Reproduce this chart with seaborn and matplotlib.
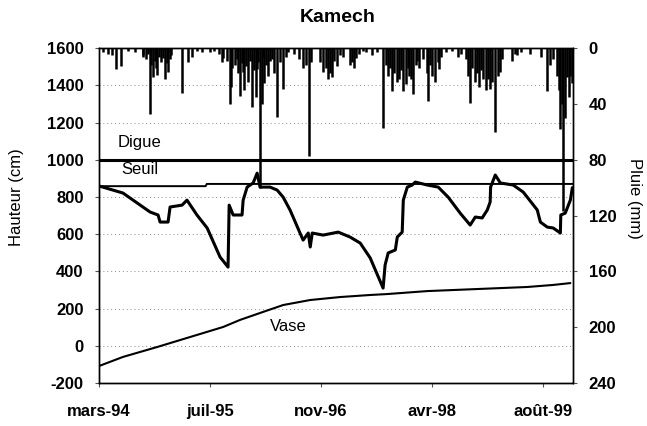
import pandas as pd
import seaborn as sns
import matplotlib.pyplot as plt

# jours comptés depuis le 1er mars 1994
debut = pd.Timestamp('1994-03-01')

tick_labels = ['mars-94', 'juil-95', 'nov-96', 'avr-98', 'août-99']
tick_days = [0, 500, 1000, 1500, 2000]

# hauteur d'eau dans la retenue (cm)
niveau_jour = [0, 108, 230, 266, 275, 311, 320, 374, 396, 441, 487, 545, 581, 586, 604, 644,
               649, 667, 694, 712, 725, 770, 802, 829, 860, 905, 919, 942, 951, 960, 1009,
               1077, 1131, 1176, 1221, 1279, 1288, 1302, 1334, 1343, 1365, 1370, 1388, 1410,
               1424, 1478, 1527, 1572, 1626, 1671, 1694, 1725, 1748, 1761, 1763, 1784, 1807,
               1865, 1910, 1973, 1987, 2018, 2045, 2077, 2079, 2099, 2122, 2131]
niveau_cm = [859, 821, 719, 703, 665, 665, 746, 756, 783, 703, 633, 477, 423, 756, 703, 703,
             783, 853, 875, 928, 853, 853, 837, 799, 730, 606, 568, 606, 531, 606, 595,
             611, 584, 552, 472, 310, 434, 499, 515, 585, 611, 783, 853, 864,
             880, 864, 853, 799, 713, 649, 692, 687, 730, 773, 853, 918, 875,
             864, 826, 730, 665, 638, 633, 606, 703, 713, 783, 850]

# envasement (cm)
vase_jour = [0, 108, 261, 410, 559, 635, 739, 829, 951, 1086, 1221, 1297, 1478, 1703, 1928, 2045, 2122]
vase_cm = [-109, -60, -7, 47, 101, 139, 182, 219, 246, 262, 273, 278, 294, 305, 316, 327, 337]

# cote de la digue et du seuil (cm)
digue_cm = 1000
seuil_jour = [0, 480, 485, 2135]
seuil_cm = [858, 858, 870, 870]

# pluie journalière (mm)
pluie_jour = [41, 77, 99, 198, 230, 243, 261, 297, 311, 374, 401, 419, 464, 554, 590, 613,
              635, 649, 671, 689, 712, 725, 734, 770, 802, 829, 919, 946, 1009, 1050, 1072,
              1131, 1149, 1189, 1279, 1320, 1343, 1370, 1397, 1415, 1433, 1482, 1514, 1532,
              1617, 1671, 1694, 1730, 1761, 1784, 1807, 1861, 1874, 2018, 2045, 2077, 2090,
              2108, 2122,
              200, 210, 220, 236, 250, 255, 270, 280, 290, 305, 318, 325,
              540, 560, 575, 595, 600, 620, 628, 642, 655, 660, 680, 700, 705, 718, 740, 745,
              750, 760, 780, 790, 815, 840, 900, 930, 955,
              995, 1020, 1030, 1040, 1060, 1085, 1100, 1140, 1155,
              1290, 1300, 1310, 1330, 1350, 1360, 1380, 1390, 1405, 1425,
              1440, 1460, 1475, 1490, 1500, 1525, 1540,
              1650, 1660, 1680, 1700, 1710, 1720, 1740, 1750, 1770, 1795, 1815,
              2030, 2060, 2070, 2085, 2100, 2115, 2128,
              20, 60, 130, 160, 440, 500, 520, 850, 880, 1170, 1200, 1230, 1250,
              1560, 1590, 1630, 1880, 1900, 1940, 1990]
pluie_mm = [4, 15, 13, 6, 47, 21, 19, 22, 17, 32, 10, 6, 3, 10, 40, 12,
            34, 17, 24, 42, 15, 100, 40, 9, 49, 29, 14, 77, 17, 21, 13,
            12, 14, 2, 57, 31, 24, 31, 20, 33, 9, 38, 24, 15,
            6, 39, 24, 22, 29, 60, 17, 9, 4, 31, 8, 58, 117,
            21, 20,
            5, 8, 4, 12, 9, 14, 6, 10, 7, 11, 8, 5,
            4, 7, 9, 28, 14, 8, 18, 11, 30, 13, 9, 16, 35, 10, 6, 25,
            12, 20, 8, 18, 10, 6, 8, 12, 10,
            10, 14, 22, 18, 9, 5, 6, 10, 7,
            12, 20, 14, 18, 22, 16, 26, 14, 22, 12,
            14, 8, 18, 12, 20, 10, 6,
            8, 20, 14, 18, 28, 16, 30, 22, 24, 20, 8,
            12, 20, 30, 40, 50, 35, 25,
            3, 5, 2, 3, 2, 3, 2, 3, 4, 4, 3, 5, 3,
            3, 2, 4, 5, 3, 4, 6]

niveau = pd.DataFrame({'date': debut + pd.to_timedelta(niveau_jour, unit='D'), 'cm': niveau_cm})
vase = pd.DataFrame({'date': debut + pd.to_timedelta(vase_jour, unit='D'), 'cm': vase_cm})
seuil = pd.DataFrame({'date': debut + pd.to_timedelta(seuil_jour, unit='D'), 'cm': seuil_cm})
pluie = pd.DataFrame({'date': debut + pd.to_timedelta(pluie_jour, unit='D'), 'mm': pluie_mm})

sns.set_style('ticks')
plt.rcParams['font.family'] = ['Liberation Sans', 'DejaVu Sans']
plt.rcParams['axes.unicode_minus'] = False
plt.rcParams['text.color'] = 'black'
plt.rcParams['axes.labelcolor'] = 'black'

fig = plt.figure(figsize=(6.47, 4.26), dpi=100)
ax = fig.add_axes([0.153, 0.101, 0.733, 0.786])
ax2 = ax.twinx()

fin = debut + pd.Timedelta(days=2135)

ax.yaxis.grid(True, color='#8a8a8a', linestyle=(0, (1, 3)), linewidth=0.7)
ax.axhline(digue_cm, color='black', lw=2.2)
sns.lineplot(data=seuil, x='date', y='cm', ax=ax, color='black', lw=1.4, estimator=None, sort=False)
sns.lineplot(data=vase, x='date', y='cm', ax=ax, color='black', lw=1.5, estimator=None, sort=False)
sns.lineplot(data=niveau, x='date', y='cm', ax=ax, color='black', lw=2.2, estimator=None, sort=False)

ax2.vlines(pluie['date'], 0, pluie['mm'], color='black', lw=1.8)

ax.set_xlim(debut, fin)
ax.set_ylim(-200, 1600)
ax.set_yticks(range(-200, 1601, 200))
ax2.set_ylim(240, 0)
ax2.set_yticks(range(0, 241, 40))

ax.set_xticks(debut + pd.to_timedelta(tick_days, unit='D'))
ax.set_xticklabels(tick_labels)

for a in (ax, ax2):
    for s in a.spines.values():
        s.set_color('black')
        s.set_linewidth(1.0)
    a.tick_params(labelsize=12, length=3, width=0.8, color='#555555', labelcolor='black')
    for lab in a.get_xticklabels() + a.get_yticklabels():
        lab.set_fontweight('bold')
ax.tick_params(axis='y', pad=8)
ax.tick_params(axis='x', pad=12)
ax2.tick_params(axis='y', pad=8)

ax.set_xlabel('')
ax.set_ylabel('Hauteur (cm)', fontsize=12)
ax.yaxis.set_label_coords(-0.158, 0.555)
ax2.set_ylabel('Pluie (mm)', fontsize=12, rotation=-90, va='center')
ax2.yaxis.set_label_coords(1.13, 0.552)

ax.text(debut + pd.Timedelta(days=86), 1095, 'Digue', fontsize=12, va='center')
ax.text(debut + pd.Timedelta(days=100), 945, 'Seuil', fontsize=12, va='center')
ax.text(debut + pd.Timedelta(days=770), 101, 'Vase', fontsize=12, va='center')

fig.text(338 / 647, 1 - 18 / 426, 'Kamech', fontsize=14, fontweight='bold', ha='center', va='center')

fig.savefig('out.png', dpi=100)
